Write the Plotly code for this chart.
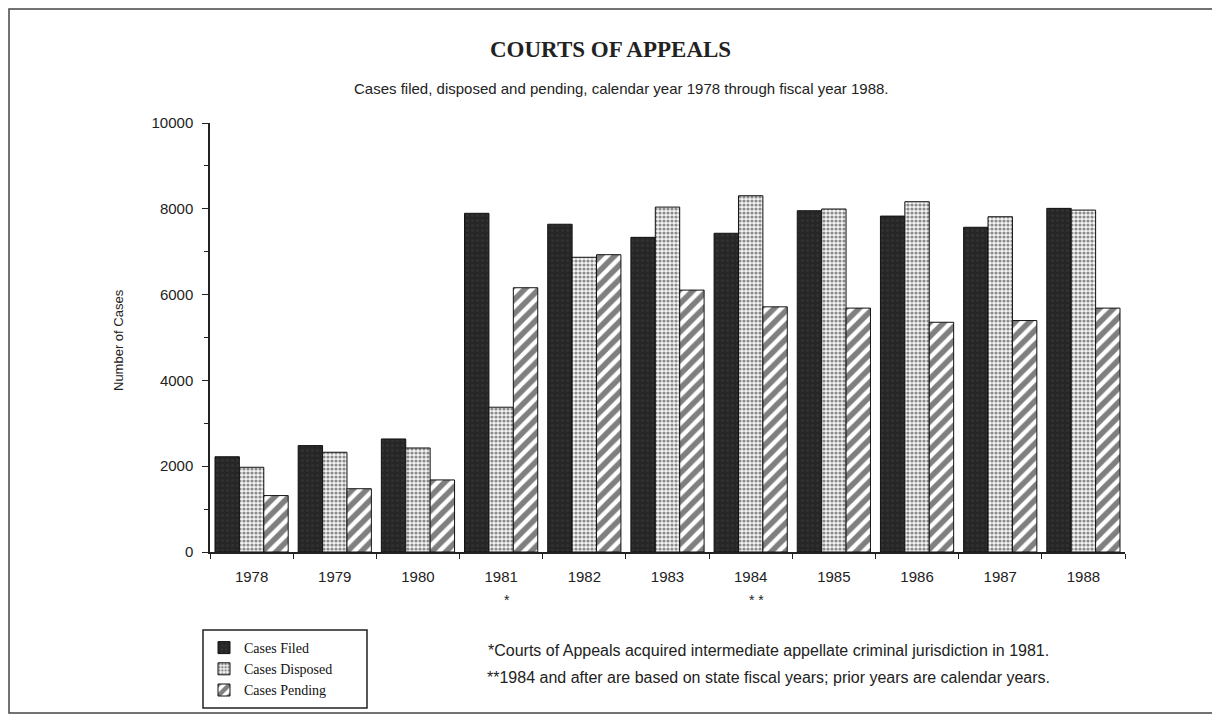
import plotly.graph_objects as go

years = ["1978", "1979", "1980", "1981", "1982", "1983", "1984", "1985", "1986", "1987", "1988"]
cases_filed = [2220, 2480, 2635, 7895, 7640, 7335, 7430, 7955, 7830, 7570, 8010]
cases_disposed = [1975, 2325, 2425, 3375, 6870, 8040, 8305, 7995, 8165, 7815, 7970]
cases_pending = [1315, 1475, 1680, 6160, 6930, 6105, 5715, 5685, 5355, 5395, 5685]
y_ticks = [0, 2000, 4000, 6000, 8000, 10000]
y_minor = [1000, 3000, 5000, 7000, 9000]

W, H = 1220, 717
OFF = 8  # page body margin of the browser
# plot area in screenshot pixels
L, R, T, B = 210, 1125, 123, 552


def px_x(px):
    return (px - L) / (R - L)


def px_y(py):
    return (B - py) / (B - T)


fig = go.Figure()
fig.add_trace(go.Bar(
    x=years, y=cases_filed, name="Cases Filed",
    marker=dict(color="#2e2e2e", line=dict(color="#111", width=1),
                pattern=dict(shape=".", fgcolor="#3c3c3c", bgcolor="#262626", size=5, solidity=0.3)),
))
fig.add_trace(go.Bar(
    x=years, y=cases_disposed, name="Cases Disposed",
    marker=dict(color="white", line=dict(color="#111", width=1),
                pattern=dict(shape=".", fgcolor="#222", bgcolor="#f4f4f4", size=4, solidity=0.5)),
))
fig.add_trace(go.Bar(
    x=years, y=cases_pending, name="Cases Pending",
    marker=dict(color="white", line=dict(color="#111", width=1),
                pattern=dict(shape="/", fgcolor="#000", bgcolor="white", size=10, solidity=0.55)),
))

sans = "Liberation Sans, Arial, sans-serif"
serif = "Liberation Serif, Times New Roman, serif"

fig.update_layout(
    width=W, height=H,
    margin=dict(l=L - OFF, r=W - (R - OFF), t=T - OFF, b=H - (B - OFF), autoexpand=False),
    paper_bgcolor="white", plot_bgcolor="white",
    barmode="group", bargap=0.12, bargroupgap=0,
    showlegend=True,
    legend=dict(
        x=px_x(204), y=px_y(632), xanchor="left", yanchor="top",
        borderwidth=0, bgcolor="rgba(0,0,0,0)",
        font=dict(family=serif, size=14, color="#111"),
        itemwidth=30, tracegroupgap=0,
    ),
    font=dict(family=sans, color="#222"),
)

fig.update_xaxes(
    type="category", categoryorder="array", categoryarray=years,
    range=[-0.5, len(years) - 0.5], autorange=False, automargin=False,
    showline=True, linecolor="#222", linewidth=1.5,
    ticks="outside", tickson="boundaries", ticklen=5, tickcolor="#222",
    tickangle=0,
    tickfont=dict(family=sans, size=15, color="#222"),
    ticklabelstandoff=10,
    showgrid=False, zeroline=False,
)
fig.update_yaxes(
    range=[0, 10000], autorange=False, automargin=False,
    showline=True, linecolor="#222", linewidth=1.5,
    tickmode="array", tickvals=y_ticks, ticktext=[str(v) for v in y_ticks],
    ticks="outside", ticklen=6, tickcolor="#222",
    minor=dict(tickmode="array", tickvals=y_minor, ticks="outside", ticklen=4, tickcolor="#222"),
    tickfont=dict(family=sans, size=15, color="#222"),
    ticklabelstandoff=6,
    showgrid=False, zeroline=False,
)

# page frame
fig.add_shape(type="rect", xref="paper", yref="paper",
              x0=px_x(9), x1=px_x(1215), y0=px_y(713), y1=px_y(9),
              line=dict(color="#444", width=1.5), fillcolor="rgba(0,0,0,0)", layer="below")
# legend frame
fig.add_shape(type="rect", xref="paper", yref="paper",
              x0=px_x(203), x1=px_x(367), y0=px_y(708), y1=px_y(630),
              line=dict(color="#222", width=1.5), fillcolor="rgba(0,0,0,0)", layer="below")


def note(text, x, y, size, family=sans, xanchor="center", angle=0):
    fig.add_annotation(text=text, xref="paper", yref="paper", x=x, y=y,
                       xanchor=xanchor, yanchor="middle", showarrow=False, textangle=angle,
                       font=dict(family=family, size=size, color="#222"))


note("<b>COURTS OF APPEALS</b>", px_x(610), px_y(49), 23, family=serif)
note("Cases filed, disposed and pending, calendar year 1978 through fiscal year 1988.",
     px_x(621), px_y(88), 15)
note("Number of Cases", px_x(118), px_y(340), 13, angle=-90)
star_shift = 6 / (R - L)
note("*", (years.index("1981") + 0.5) / len(years) + star_shift, px_y(600), 14)
note("* *", (years.index("1984") + 0.5) / len(years) + star_shift, px_y(600), 14)
note("*Courts of Appeals acquired intermediate appellate criminal jurisdiction in 1981.",
     px_x(768), px_y(650), 16)
note("**1984 and after are based on state fiscal years; prior years are calendar years.",
     px_x(768), px_y(677), 16)

fig.write_html("out.html")
